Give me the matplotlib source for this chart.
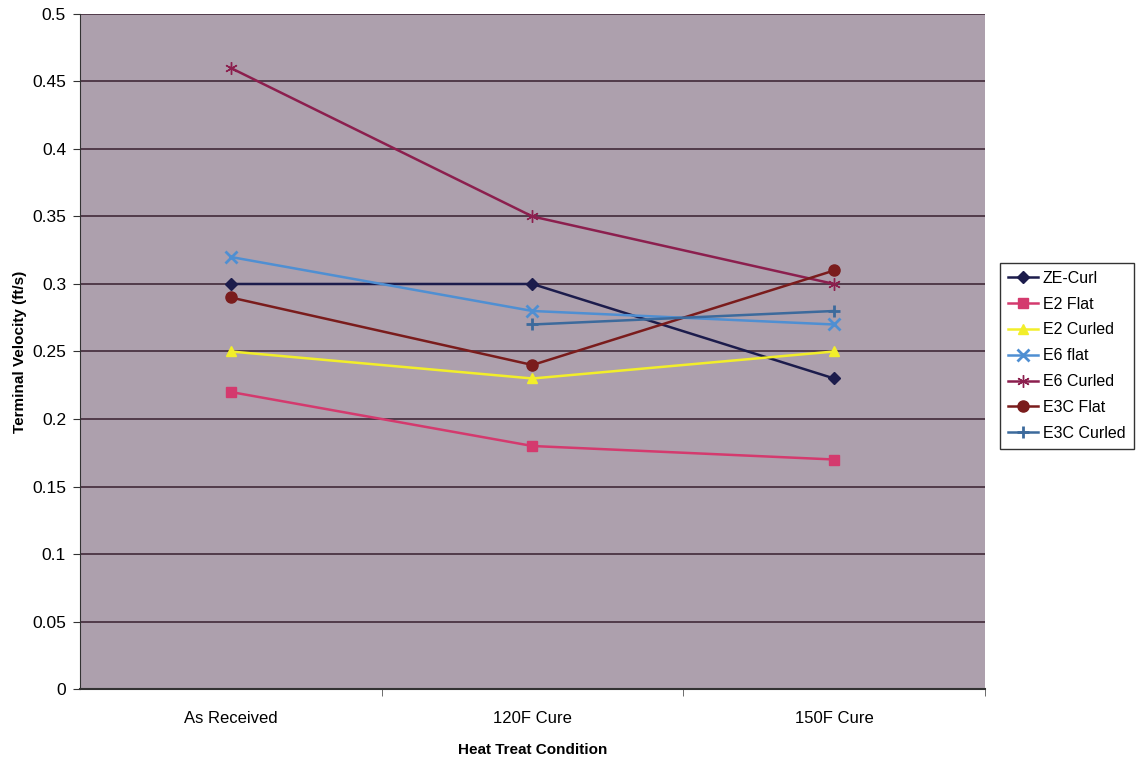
import numpy as np
import matplotlib
matplotlib.use("Agg")
import matplotlib.pyplot as plt

plt.rcParams['font.family'] = ['Liberation Sans', 'DejaVu Sans']

categories = ["As Received", "120F Cure", "150F Cure"]
series_names = ["ZE-Curl", "E2 Flat", "E2 Curled", "E6 flat", "E6 Curled", "E3C Flat", "E3C Curled"]
ze_curl = [0.30, 0.30, 0.23]
e2_flat = [0.22, 0.18, 0.17]
e2_curled = [0.25, 0.23, 0.25]
e6_flat = [0.32, 0.28, 0.27]
e6_curled = [0.46, 0.35, 0.30]
e3c_flat = [0.29, 0.24, 0.31]
e3c_curled = [np.nan, 0.27, 0.28]

values = [ze_curl, e2_flat, e2_curled, e6_flat, e6_curled, e3c_flat, e3c_curled]
colors = ["#1c1c4c", "#d43a6e", "#f2ee2a", "#4f8fd2", "#8c1f4e", "#7a1c1c", "#3c6a9c"]
markers = ["D", "s", "^", "x", (6, 2, 0), "o", "+"]
msizes = [6, 7, 7, 8, 9, 8, 9]

fig = plt.figure(figsize=(11.39, 7.59), dpi=100)
ax = fig.add_axes([0.0702, 0.0922, 0.7946, 0.8894])
ax.set_facecolor("#ada0ad")

x = np.arange(len(categories))
for name, vals, c, m, ms in zip(series_names, values, colors, markers, msizes):
    ax.plot(x, vals, color=c, marker=m, markersize=ms, linewidth=1.8, label=name,
            markeredgewidth=2 if m in ("x", "+") else 1, zorder=3)

ax.set_xlim(-0.5, 2.5)
ax.set_ylim(0, 0.5)
ax.set_yticks(np.arange(0, 0.501, 0.05))
ax.set_yticklabels(["0"] + [f"{v:g}" for v in np.arange(0.05, 0.501, 0.05)])
ax.set_xticks(x)
ax.set_xticklabels(categories)
ax.set_xticks([0.5, 1.5, 2.5], minor=True)
ax.tick_params(axis='x', which='major', length=0, labelsize=12, pad=16)
ax.tick_params(axis='x', which='minor', length=5, direction='out', color='#555555')
ax.tick_params(axis='y', labelsize=12.5, length=5, direction='out', color='#333333', pad=5)
ax.yaxis.grid(True, color="#4a3342", linewidth=1.3)
ax.set_axisbelow(True)
for s in ["top", "right"]:
    ax.spines[s].set_visible(False)
ax.spines["left"].set_color("#333333")
ax.spines["bottom"].set_color("#333333")
ax.spines["bottom"].set_linewidth(1.5)

ax.set_xlabel("Heat Treat Condition", fontsize=11, fontweight="bold", labelpad=12)
ax.set_ylabel("Terminal Velocity (ft/s)", fontsize=11, fontweight="bold", labelpad=4)

leg = fig.legend(loc="upper left", bbox_to_anchor=(995/1139, 1 - 258/759), fontsize=11.5,
                 frameon=True, fancybox=False, edgecolor="black", handlelength=1.9,
                 labelspacing=0.68, borderpad=0.5, handletextpad=0.3, borderaxespad=0.3)
leg.get_frame().set_linewidth(1)

fig.savefig("out.png", dpi=100)
